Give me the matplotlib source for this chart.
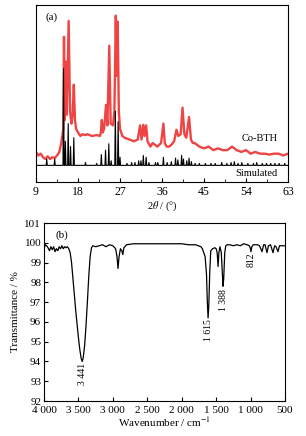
import numpy as np
import matplotlib.pyplot as plt
from matplotlib.ticker import MultipleLocator, FuncFormatter

plt.rcParams['font.family'] = ['Liberation Serif', 'DejaVu Serif']
plt.rcParams['mathtext.fontset'] = 'stix'
plt.rcParams['font.size'] = 8

# (a) XRD: Co-BTH experimental trace (2theta, intensity)
cobth_x = [9, 9.5, 10, 10.5, 11, 11.5, 12, 12.5, 13, 13.5, 14, 14.4, 14.7,
           14.85, 15.0, 15.15, 15.4, 15.6, 16.0, 16.3, 16.6, 16.85, 17.1, 17.35, 17.6,
           18, 18.5, 19, 19.5, 20, 21, 22, 22.7, 22.9, 23.1, 23.3, 23.6, 24.0, 24.3,
           24.7, 25.0, 25.5, 25.8, 26.1, 26.3, 26.5, 26.75, 27.0, 27.5, 28, 29, 30,
           30.8, 31.3, 31.6, 32.0, 32.25, 32.6, 32.9, 33.5, 34, 34.5, 35, 35.8, 36.3,
           36.6, 37, 37.5, 38, 38.6, 39.1, 39.5, 40.0, 40.4, 40.8, 41.2, 41.8, 42.2,
           42.6, 43, 44, 45, 46, 47, 48, 49, 50, 51, 52, 53, 54, 55, 56, 57, 58, 59,
           60, 61, 62, 63]
cobth_y = [17, 15, 16, 14, 13, 14.5, 13, 14, 13.5, 15, 17, 22, 27,
           30, 82, 35, 68, 38, 91, 40, 33, 38, 55, 35, 30,
           28, 26, 27, 26.5, 27, 26, 26.5, 26, 28, 35, 28, 30, 43.6, 32,
           77, 33, 32, 40, 94, 60, 90.6, 40, 30, 26, 25, 24, 23,
           24, 32, 24, 32.3, 26, 32, 23, 20, 22, 21, 20, 22, 33,
           22, 20, 20, 21, 23, 29.5, 26, 27, 42, 27, 25, 36.7, 24,
           22, 22, 20, 19, 20, 18, 19, 18, 18, 20, 18, 17, 18, 16, 17, 16, 16, 15.5,
           16, 16, 15, 16]

# (a) XRD: simulated pattern, baseline and peak list
sim_base = 9.4
sim_pos = [11.3, 13.0, 14.9, 15.3, 15.9, 16.4, 17.1, 19.6, 22.0, 23.0, 23.9, 24.6,
           25.1, 26.0, 26.6, 27.0, 28.5, 29.5, 30.2, 31.0, 31.5, 32.0, 32.6, 33.2,
           34.6, 35.1, 36.3, 37.1, 38.0, 38.9, 39.4, 40.2, 40.6, 41.3, 41.8, 42.3,
           43.1, 44.0, 45.3, 46.5, 47.4, 48.8, 49.9, 50.8, 51.5, 52.3, 53.1, 54.4,
           55.6, 56.3, 57.5, 58.4, 59.3, 60.2, 61.1, 62.3]
sim_top = [13, 13, 64, 23, 33, 20, 25, 11, 10.5, 15.5, 18, 21.6,
           12, 40, 34, 14, 10.5, 11, 11, 12, 12, 15, 14, 11,
           11, 11, 14, 11, 11.5, 13.5, 12.5, 15, 13, 12, 13.5, 11.5,
           10.5, 10.5, 10.5, 10.5, 10.5, 11, 10.5, 11, 11.5, 10.5, 11, 10.5,
           10.5, 11, 10.5, 10.5, 10.5, 10.5, 10.5, 10.5]

# (b) FT-IR spectrum (wavenumber, transmittance %)
ir_x = [4000, 3980, 3950, 3920, 3900, 3880, 3860, 3840, 3820, 3800, 3780, 3760,
        3740, 3720, 3700, 3680, 3660, 3640, 3620, 3600, 3580, 3560, 3540, 3520,
        3500, 3480, 3460, 3445, 3430, 3410, 3390, 3370, 3350, 3330, 3310, 3290,
        3250, 3200, 3150, 3100, 3050, 3000, 2960, 2940, 2925, 2910, 2890, 2870,
        2855, 2840, 2800, 2700, 2500, 2200, 2000, 1900, 1800, 1720, 1700, 1680,
        1660, 1640, 1628, 1617, 1607, 1592, 1578, 1550, 1520, 1500, 1485, 1472,
        1460, 1445, 1425, 1412, 1400, 1390, 1375, 1360, 1340, 1300, 1250, 1200,
        1150, 1100, 1050, 1020, 1005, 994, 982, 960, 900, 870, 834, 810, 790, 762,
        740, 710, 674, 650, 630, 602, 580, 540, 500]
ir_y = [99.7, 99.9, 99.8, 99.6, 99.8, 99.65, 99.8, 99.55, 99.7, 99.6, 99.8, 99.7,
        99.85, 99.7, 99.8, 99.75, 99.8, 99.7, 99.5, 99.0, 98.2, 97.4, 96.6, 95.9,
        95.2, 94.6, 94.15, 94.0, 94.2, 94.8, 95.8, 97.0, 98.3, 99.3, 99.75, 99.85,
        99.8, 99.85, 99.9, 99.8, 99.9, 99.85, 99.7, 99.3, 98.7, 99.3, 99.7, 99.6,
        99.4, 99.75, 99.9, 99.95, 99.95, 99.95, 99.95, 99.9, 99.9, 99.8, 99.7, 99.5,
        99.3, 98.4, 97.0, 96.2, 96.8, 98.6, 99.6, 99.7, 99.75, 99.7, 99.5, 98.8,
        99.5, 99.8, 99.5, 98.6, 97.8, 98.2, 99.5, 99.85, 99.9, 99.9, 99.85, 99.9,
        99.85, 99.95, 99.9, 99.85, 99.75, 99.55, 99.8, 99.9, 99.9, 99.85, 99.55,
        99.9, 99.9, 99.5, 99.85, 99.9, 99.5, 99.85, 99.8, 99.55, 99.85, 99.85, 99.85]

ir_labels = ['3 441', '1 615', '1 388', '812']
ir_label_x = [3441, 1617, 1400, 994]
ir_label_y = [93.95, 96.15, 97.65, 99.5]

fig = plt.figure(figsize=(3.06, 4.36), dpi=100)

# ---- (a) XRD ----
ax1 = fig.add_axes([36 / 306, 1 - 182 / 436, 252 / 306, 177 / 436])
ax1.plot(cobth_x, cobth_y, color='#ee3030', lw=1.7, alpha=0.9)

sx, sy = [9], [sim_base]
for p, h in zip(sim_pos, sim_top):
    sx += [p - 0.12, p, p + 0.12]
    sy += [sim_base, h, sim_base]
sx.append(63)
sy.append(sim_base)
ax1.plot(sx, sy, color='black', lw=0.8)

ax1.set_xlim(9, 63)
ax1.set_ylim(0, 100)
ax1.xaxis.set_major_locator(MultipleLocator(9))
ax1.xaxis.set_minor_locator(MultipleLocator(4.5))
ax1.set_yticks([])
ax1.tick_params(axis='x', which='both', direction='in', top=False, labelsize=8.5, pad=3)
ax1.tick_params(axis='x', which='major', length=3)
ax1.tick_params(axis='x', which='minor', length=2)
ax1.set_xlabel(r'2$\theta$ / (°)', fontsize=7.5, labelpad=1)
ax1.text(0.036, 0.96, '(a)', transform=ax1.transAxes, va='top', ha='left', fontsize=8)
ax1.text(60.8, 24.6, 'Co-BTH', ha='right', va='center', fontsize=7.5)
ax1.text(60.8, 5.0, 'Simulated', ha='right', va='center', fontsize=7.5)
for s in ax1.spines.values():
    s.set_linewidth(0.8)

# ---- (b) FT-IR ----
ax2 = fig.add_axes([44 / 306, 1 - 401 / 436, 241 / 306, 178 / 436])
ax2.plot(ir_x, ir_y, color='black', lw=0.9)
ax2.set_xlim(4000, 500)
ax2.set_ylim(92, 101)
ax2.xaxis.set_major_locator(MultipleLocator(500))
ax2.yaxis.set_major_locator(MultipleLocator(1))
ax2.xaxis.set_major_formatter(FuncFormatter(lambda v, pos: f'{int(v):,}'.replace(',', ' ')))
ax2.tick_params(direction='in', length=3, labelsize=8, top=False, right=False)
ax2.tick_params(axis='x', pad=3.5)
ax2.tick_params(axis='y', pad=2)
ax2.set_xlabel('Wavenumber / cm$^{-1}$', fontsize=8, labelpad=0)
ax2.set_ylabel('Transmittance / %', fontsize=8, labelpad=3)
ax2.text(0.046, 0.96, '(b)', transform=ax2.transAxes, va='top', ha='left', fontsize=8)
for lab, lx, ly in zip(ir_labels, ir_label_x, ir_label_y):
    ax2.text(lx, ly, lab, rotation=90, ha='center', va='top', fontsize=7)
for s in ax2.spines.values():
    s.set_linewidth(0.8)

fig.savefig('out.png', dpi=100)
